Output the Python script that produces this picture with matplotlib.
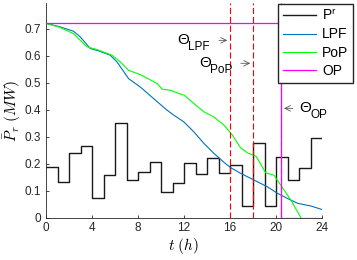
import numpy as np
import matplotlib
matplotlib.use("Agg")
import matplotlib.pyplot as plt

# reference power per hour (MW)
hours = np.arange(0, 25)
p_ref = [0.186, 0.131, 0.241, 0.267, 0.074, 0.158, 0.349, 0.138, 0.168, 0.207,
         0.095, 0.127, 0.201, 0.162, 0.222, 0.167, 0.196, 0.044, 0.275, 0.043,
         0.223, 0.140, 0.183, 0.295]

# LPF curve
t_lpf = [0, 1.22, 2.38, 2.97, 3.84, 4.57, 5.58, 6.17, 7.18, 8.2, 9.36, 10.53,
         11.1, 11.98, 12.85, 13.73, 14.6, 15.47, 16.06, 16.93, 18.1, 19.26,
         20.13, 21.0, 21.88, 23.04, 24]
v_lpf = [0.72, 0.707, 0.691, 0.670, 0.627, 0.618, 0.602, 0.577, 0.515, 0.484,
         0.441, 0.398, 0.38, 0.355, 0.318, 0.275, 0.238, 0.205, 0.185, 0.164,
         0.139, 0.114, 0.09, 0.071, 0.053, 0.043, 0.03]

# PoP curve
t_pop = [0, 1.22, 2.38, 3.55, 4.42, 5.73, 6.46, 7.18, 8.2, 9.66, 10.1, 10.82,
         11.55, 12.0, 12.85, 13.73, 14.6, 15.47, 16.2, 16.9, 17.5, 18.1, 18.3,
         19.1, 19.83, 20.42, 21.29, 22.16]
v_pop = [0.72, 0.705, 0.682, 0.633, 0.623, 0.602, 0.577, 0.546, 0.530, 0.497,
         0.476, 0.472, 0.460, 0.454, 0.423, 0.392, 0.373, 0.343, 0.306, 0.26,
         0.24, 0.231, 0.225, 0.166, 0.157, 0.12, 0.065, 0.0]

# OP curve
t_op = [0, 20.45, 20.45, 24]
v_op = [0.72, 0.72, 0, 0]

# thresholds and their labels
theta = [16, 18, 20.45]
theta_names = ['LPF', 'PoP', 'OP']

plt.rcParams['font.family'] = 'Liberation Sans'
plt.rcParams['mathtext.fontset'] = 'cm'

fig = plt.figure(figsize=(3.57, 2.6), dpi=100)
ax = fig.add_axes([0.129, 0.163, 0.773, 0.825])

axcol = '#262626'
ax.step(hours, p_ref + [p_ref[-1]], where='post', color='#1a1a1a', lw=1.0, label='P$^\\mathsf{r}$')
ax.plot(t_lpf, v_lpf, color='#0072BD', lw=0.8, label='LPF')
ax.plot(t_pop, v_pop, color='#00ff00', lw=0.8, label='PoP')
for th in theta:
    ax.axvline(th, color='red', lw=0.8, ls=(0, (5.5, 2.5)))
ax.plot(t_op, v_op, color='#ff00ff', lw=0.9, label='OP', zorder=3)


def theta_label(x, y, name):
    ax.text(x, y, 'Θ', fontsize=11, va='center', ha='left')
    ax.annotate(name, xy=(x, y), xytext=(8, -5), textcoords='offset points',
                fontsize=8.5, va='center', ha='left')


arrow = dict(arrowstyle='->', color='#555555', lw=0.6)
theta_label(11.4, 0.657, theta_names[0])
ax.annotate('', xy=(theta[0], 0.657), xytext=(14.8, 0.657), arrowprops=arrow)
theta_label(13.3, 0.572, theta_names[1])
ax.annotate('', xy=(theta[1], 0.572), xytext=(16.7, 0.572), arrowprops=arrow)
ax.annotate('', xy=(theta[2], 0.405), xytext=(21.7, 0.405), arrowprops=arrow)
theta_label(22.0, 0.405, theta_names[2])

ax.set_xlim(0, 24)
ax.set_ylim(0, 0.795)
ax.set_xticks(range(0, 25, 4))
ax.set_yticks(np.arange(0, 0.71, 0.1))
ax.set_yticklabels(['0', '0.1', '0.2', '0.3', '0.4', '0.5', '0.6', '0.7'])
ax.tick_params(direction='in', length=2.5, labelsize=8.5, colors=axcol, width=0.6)
for s in ['top', 'right']:
    ax.spines[s].set_visible(False)
for s in ['left', 'bottom']:
    ax.spines[s].set_color(axcol)
    ax.spines[s].set_linewidth(0.6)

ax.set_xlabel(r'$t\ (h)$', fontsize=11, labelpad=1)
ax.set_ylabel(r'$\bar{P}_r\ (MW)$', fontsize=11, labelpad=1)

fig.legend(loc='upper right', bbox_to_anchor=(353 / 357, 1 - 4 / 260), fontsize=10,
           fancybox=False, edgecolor=axcol, framealpha=1, borderpad=0.35,
           handlelength=2.4, handletextpad=0.4, labelspacing=0.3, borderaxespad=0)

fig.savefig('out.png', dpi=100)
